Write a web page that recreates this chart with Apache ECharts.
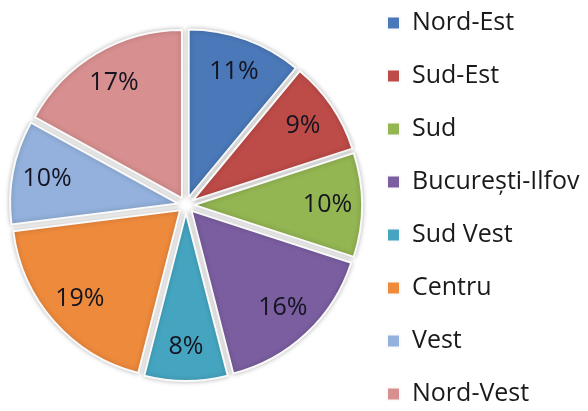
<!DOCTYPE html>
<html>
<head>
<meta charset="utf-8">
<script src="https://cdn.jsdelivr.net/npm/echarts@6/dist/echarts.min.js"></script>
<style>
  html, body { margin: 0; padding: 0; background: #fff; }
  #chart { width: 588px; height: 411px; }
</style>
</head>
<body>
<div id="chart"></div>
<script type="text/javascript">
	var regions = ['Nord-Est', 'Sud-Est', 'Sud', 'București-Ilfov', 'Sud Vest', 'Centru', 'Vest', 'Nord-Vest'];
	var shares = [11, 9, 10, 16, 8, 19, 10, 17];
	var colors = ['#4a78b8', '#bd4b48', '#93b552', '#7a5ea0', '#45a5c0', '#ee8a3c', '#93b1dc', '#d78f8f'];

	var chart = echarts.init(document.getElementById('chart'), null, { renderer: 'canvas' });

	var center = [186, 205];

	// slices, all pulled out a little like the exploded excel pie
	var sliceData = [];
	var labelData = [];
	for (var i = 0; i < regions.length; i++) {
		sliceData.push({
			name: regions[i],
			value: shares[i],
			selected: true,
			itemStyle: { color: colors[i] }
		});
		labelData.push({ name: regions[i], value: shares[i] });
	}

	var option = {
		animation: false,
		legend: {
			orient: 'vertical',
			left: 386,
			top: 10,
			padding: 0,
			icon: 'rect',
			itemWidth: 13,
			itemHeight: 13,
			itemGap: 27,
			selectedMode: false,
			data: regions,
			textStyle: {
				fontFamily: 'Open Sans',
				fontSize: 25,
				lineHeight: 26,
				color: '#1a1a1a',
				padding: [0, 0, 0, 7]
			}
		},
		series: [
			{
				name: 'regiuni',
				type: 'pie',
				center: center,
				radius: 168,
				startAngle: 90,
				clockwise: true,
				selectedMode: 'multiple',
				selectedOffset: 8,
				silent: true,
				label: { show: false },
				labelLine: { show: false },
				itemStyle: {
					borderColor: '#fafafa',
					borderWidth: 2,
					shadowBlur: 5,
					shadowColor: 'rgba(0,0,0,0.25)'
				},
				select: {
					itemStyle: {
						borderColor: '#fafafa',
						borderWidth: 2,
						shadowBlur: 5,
						shadowColor: 'rgba(0,0,0,0.25)'
					}
				},
				data: sliceData
			},
			{
				// invisible ring only used to put the % labels out near the rim
				name: 'etichete',
				type: 'pie',
				center: center,
				radius: [85, 192],
				startAngle: 90,
				clockwise: true,
				silent: true,
				z: 5,
				itemStyle: { color: 'rgba(0,0,0,0)', borderWidth: 0 },
				label: {
					show: true,
					position: 'inside',
					formatter: '{c}%',
					fontFamily: 'Open Sans',
					fontSize: 25,
					color: '#141420'
				},
				labelLine: { show: false },
				data: labelData
			}
		]
	};

	chart.setOption(option);
</script>
</body>
</html>
